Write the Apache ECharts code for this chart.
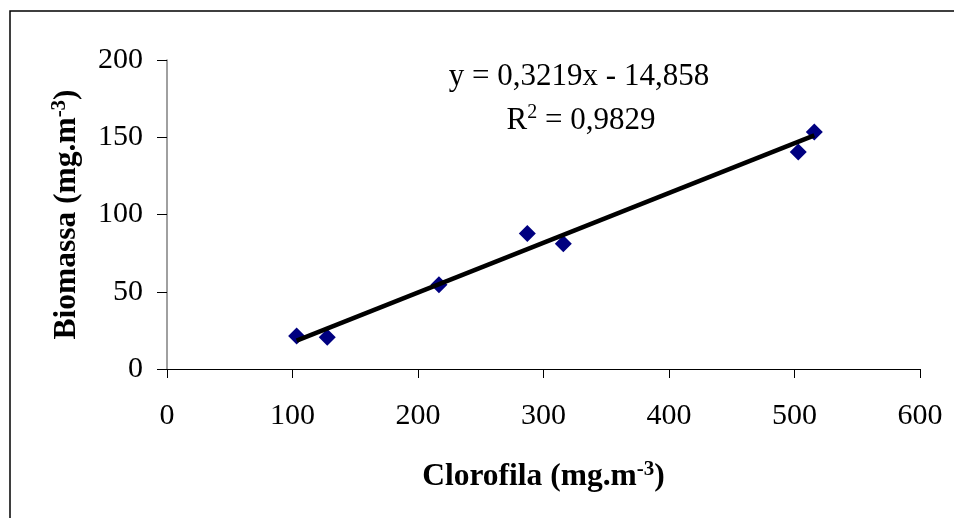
<!DOCTYPE html>
<html>
<head>
<meta charset="utf-8">
<script src="https://cdn.jsdelivr.net/npm/echarts@6/dist/echarts.min.js"></script>
<style>
  html, body { margin: 0; padding: 0; background: #fff; }
  #chart { width: 954px; height: 518px; }
</style>
</head>
<body>
<div id="chart"></div>
<script>
// Chlorophyll vs. biomass samples
const clorofila = [103.3, 127.7, 216.7, 287.1, 315.8, 503.0, 515.8];
const biomassa  = [21.4, 20.6, 54.5, 87.7, 81.0, 140.5, 153.4];

// Linear fit reported on the chart
const slope = 0.3219;
const intercept = -14.858;
const r2 = 0.9829;

const xTicks = [0, 100, 200, 300, 400, 500, 600];
const yTicks = [0, 50, 100, 150, 200];

const fmt = (v, d) => v.toFixed(d).replace('.', ',');

const points = clorofila.map((x, i) => [x, biomassa[i]]);
const xMin = Math.min(...clorofila);
const xMax = Math.max(...clorofila);
const fitLine = [[xMin, slope * xMin + intercept], [xMax, slope * xMax + intercept]];

const serif = '"Liberation Serif", "Times New Roman", serif';

const titleRich = {
  a: { fontFamily: serif, fontSize: 31.5, fontWeight: 'bold', color: '#000', lineHeight: 36 },
  s: { fontFamily: serif, fontSize: 21, fontWeight: 'bold', color: '#000', verticalAlign: 'top', lineHeight: 36 }
};

const chart = echarts.init(document.getElementById('chart'), null, { renderer: 'canvas' });

chart.setOption({
  backgroundColor: '#fff',
  animation: false,
  grid: { left: 167, right: 34, top: 60, bottom: 149, containLabel: false },
  xAxis: {
    type: 'value',
    min: xTicks[0],
    max: xTicks[xTicks.length - 1],
    interval: 100,
    splitLine: { show: false },
    axisLine: { show: true, onZero: false, lineStyle: { color: '#000', width: 1 } },
    axisTick: { show: true, inside: false, length: 9, lineStyle: { color: '#000' } },
    axisLabel: { margin: 32, color: '#000', fontFamily: serif, fontSize: 30 },
    name: '{a|Clorofila (mg.m}{s|-3}{a|)}',
    nameLocation: 'middle',
    nameGap: 90,
    nameTextStyle: { rich: titleRich }
  },
  yAxis: {
    type: 'value',
    min: yTicks[0],
    max: yTicks[yTicks.length - 1],
    interval: 50,
    splitLine: { show: false },
    axisLine: { show: true, onZero: false, lineStyle: { color: '#808080', width: 1.5 } },
    axisTick: { show: true, inside: false, length: 10, lineStyle: { color: '#000' } },
    axisLabel: { margin: 24, color: '#000', fontFamily: serif, fontSize: 30 },
    name: '{a|Biomassa (mg.m}{s|-3}{a|)}',
    nameLocation: 'middle',
    nameGap: 82,
    nameRotate: 90,
    nameTextStyle: { rich: titleRich }
  },
  series: [
    {
      type: 'scatter',
      data: points,
      symbol: 'diamond',
      symbolSize: 17,
      itemStyle: { color: '#000080', opacity: 1 },
      z: 2
    },
    {
      type: 'line',
      data: fitLine,
      showSymbol: false,
      symbol: 'none',
      lineStyle: { color: '#000', width: 4.5 },
      z: 3
    }
  ],
  graphic: [
    {
      type: 'rect',
      shape: { x: 10, y: 11, width: 2000, height: 2000 },
      style: { fill: 'none', stroke: '#000', lineWidth: 1.5 },
      silent: true
    },
    {
      type: 'text',
      x: 579,
      y: 77,
      style: {
        text: 'y = ' + fmt(slope, 4) + 'x - ' + fmt(Math.abs(intercept), 3),
        font: '31px ' + serif,
        fill: '#000',
        align: 'center',
        verticalAlign: 'middle'
      }
    },
    {
      type: 'text',
      x: 581,
      y: 121,
      style: {
        text: '{a|R}{s|2}{a| = ' + fmt(r2, 4) + '}',
        align: 'center',
        verticalAlign: 'middle',
        rich: {
          a: { font: '31px ' + serif, fill: '#000', lineHeight: 36 },
          s: { font: '20px ' + serif, fill: '#000', verticalAlign: 'top', lineHeight: 36 }
        }
      }
    }
  ]
});
</script>
</body>
</html>
